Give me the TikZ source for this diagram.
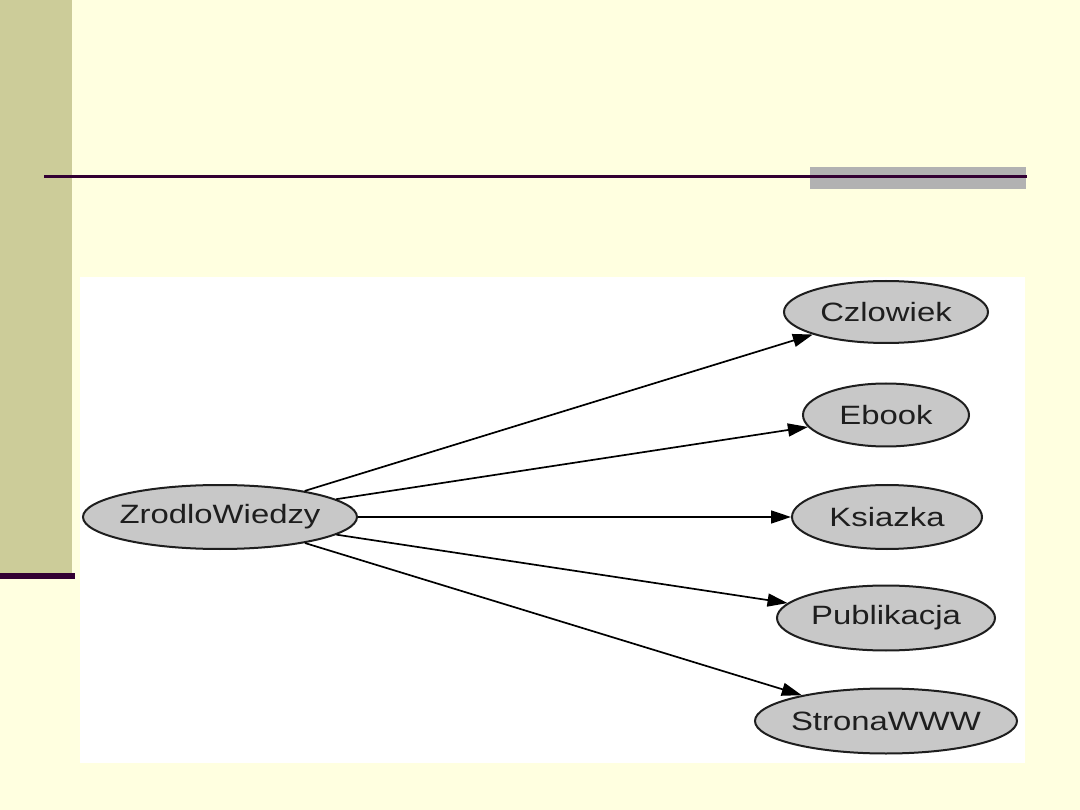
\documentclass[tikz,border=0pt]{standalone}
\usepackage{fontspec}
\newfontfamily\labfont[FakeStretch=1.24]{Liberation Sans}
\usetikzlibrary{shapes.geometric,arrows.meta}
\definecolor{cream}{RGB}{255,255,224}
\definecolor{sidebar}{RGB}{204,204,153}
\definecolor{darkplum}{RGB}{51,0,51}
\definecolor{bargray}{RGB}{178,178,178}
\definecolor{nodefill}{RGB}{200,200,200}
\definecolor{nodeline}{RGB}{30,30,30}
\tikzset{
  gnode/.style={ellipse, draw=nodeline, fill=nodefill, line width=2pt, inner sep=0pt},
  glabel/.style={font=\labfont\fontsize{26.5}{26.5}\selectfont, text=nodeline},
  gedge/.style={line width=1.7pt, draw=black, -{Triangle[length=20pt,width=13pt]}}
}
\begin{document}
\begin{tikzpicture}[x=1pt,y=-1pt]
\useasboundingbox (0,0) rectangle (1080,810);
\fill[cream] (0,0) rectangle (1080,810);
\fill[sidebar] (0,0) rectangle (72,573);
\fill[darkplum] (0,573) rectangle (75,579);
\fill[bargray] (810,167) rectangle (1026,189);
\fill[darkplum] (44,175) rectangle (1027,178);
\fill[white] (80,277) rectangle (1025,763);

\node[gnode, minimum width=274pt, minimum height=64pt, label={[glabel]center:ZrodloWiedzy}] (zw) at (220,517) {};
\node[gnode, minimum width=204pt, minimum height=62pt, label={[glabel]center:Czlowiek}] (cz) at (886,312) {};
\node[gnode, minimum width=166pt, minimum height=63pt, label={[glabel]center:Ebook}] (eb) at (886,415) {};
\node[gnode, minimum width=190pt, minimum height=64pt, label={[glabel]center:Ksiazka}] (ks) at (887,517) {};
\node[gnode, minimum width=218pt, minimum height=65pt, label={[glabel]center:Publikacja}] (pu) at (886,618) {};
\node[gnode, minimum width=262pt, minimum height=65pt, label={[glabel]center:StronaWWW}] (sw) at (886,721) {};

\draw[gedge] (zw) -- (cz);
\draw[gedge] (zw) -- (eb);
\draw[gedge] (zw) -- (ks);
\draw[gedge] (zw) -- (pu);
\draw[gedge] (zw) -- (sw);
\end{tikzpicture}
\end{document}
